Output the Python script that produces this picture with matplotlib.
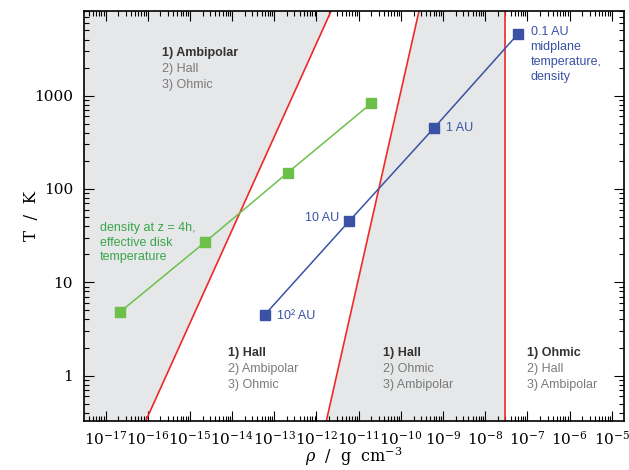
import numpy as np
import matplotlib
matplotlib.use("Agg")
import matplotlib.pyplot as plt
from matplotlib.ticker import LogLocator, FixedLocator, NullFormatter

plt.rcParams['mathtext.fontset'] = 'dejavuserif'

# disk tracks
rho_surface = [2.2e-17, 2.3e-15, 2.1e-13, 2.0e-11]
T_surface = [4.8, 27, 150, 830]
rho_mid = [6.0e-14, 5.9e-12, 6.1e-10, 6.0e-8]
T_mid = [4.5, 45, 450, 4600]
mid_labels = ["10² AU", "10 AU", "1 AU", "0.1 AU"]

# regime boundaries (red)
rho_b1 = [2.75e-17, 2.75e-12]
T_b1 = [0.1, 1e4]
rho_b2 = [9.5e-13, 3.0e-10]
T_b2 = [0.1, 1e4]
rho_b3 = 3.0e-8

# dominant-term ranking per region
regions = [
    (2.2e-16, 2870, ["1) Ambipolar", "2) Hall", "3) Ohmic"]),
    (7.9e-15, 1.73, ["1) Hall", "2) Ambipolar", "3) Ohmic"]),
    (3.8e-11, 1.73, ["1) Hall", "2) Ohmic", "3) Ambipolar"]),
    (9.6e-8, 1.73, ["1) Ohmic", "2) Hall", "3) Ambipolar"]),
]

grey = '#e6e7e8'
red = '#ee2a2a'
blue = '#3a52a5'
green_line = '#6cc04a'
green_text = '#3aa64a'


def main():
    fig = plt.figure(figsize=(6.29, 4.70), dpi=100)
    ax = fig.add_axes([84/629, 1-421/470, 540/629, 410/470])
    ax.set_xscale('log')
    ax.set_yscale('log')
    ax.set_xlim(10**-17.51, 10**-4.71)
    ax.set_ylim(0.326, 8090)

    # shaded regions
    ax.fill_betweenx(T_b1, 1e-20, rho_b1, color=grey, lw=0, zorder=0)
    ax.fill_betweenx(T_b2, rho_b2, rho_b3, color=grey, lw=0, zorder=0)

    ax.plot(rho_b1, T_b1, color=red, lw=1.2)
    ax.plot(rho_b2, T_b2, color=red, lw=1.2)
    ax.axvline(rho_b3, color=red, lw=1.2)

    ax.plot(rho_surface, T_surface, '-s', color=green_line, lw=1.1, ms=7, zorder=3)
    ax.plot(rho_mid, T_mid, '-s', color=blue, lw=1.1, ms=7, zorder=3)

    # region labels
    for x, y, lines in regions:
        for i, s in enumerate(lines):
            ax.annotate(s, (x, y), xytext=(0, -11.5*i), textcoords='offset points',
                        ha='left', va='center', fontsize=9, family='Liberation Sans',
                        color='#333333' if i == 0 else '#7a7a7a',
                        fontweight='bold' if i == 0 else 'normal')

    # track labels
    ax.annotate(mid_labels[0], (rho_mid[0], T_mid[0]), xytext=(9, -1), textcoords='offset points',
                ha='left', va='center', fontsize=9, family='Liberation Sans', color=blue)
    ax.annotate(mid_labels[1], (rho_mid[1], T_mid[1]), xytext=(-7, 2.5), textcoords='offset points',
                ha='right', va='center', fontsize=9, family='Liberation Sans', color=blue)
    ax.annotate(mid_labels[2], (rho_mid[2], T_mid[2]), xytext=(9, 0), textcoords='offset points',
                ha='left', va='center', fontsize=9, family='Liberation Sans', color=blue)
    ax.annotate(mid_labels[3] + "\nmidplane\ntemperature,\ndensity", (rho_mid[3], T_mid[3]),
                xytext=(9, 5.5), textcoords='offset points', ha='left', va='top',
                fontsize=9, family='Liberation Sans', color=blue, linespacing=1.32)
    ax.text(10**-17.135, 44, "density at z = 4h,\neffective disk\ntemperature",
            ha='left', va='top', fontsize=9, family='Liberation Sans', color=green_text,
            linespacing=1.25)

    # IDL-style ticks
    ax.xaxis.set_major_locator(FixedLocator([10.0**k for k in range(-17, -4)]))
    ax.xaxis.set_minor_locator(LogLocator(base=10, subs=np.arange(2, 10), numticks=30))
    ax.xaxis.set_minor_formatter(NullFormatter())
    ax.set_xticklabels(["$10^{%d}$" % k for k in range(-17, -4)])
    ax.yaxis.set_major_locator(FixedLocator([1, 10, 100, 1000]))
    ax.yaxis.set_minor_locator(LogLocator(base=10, subs=np.arange(2, 10), numticks=30))
    ax.yaxis.set_minor_formatter(NullFormatter())
    ax.set_yticklabels(["1", "10", "100", "1000"])
    ax.tick_params(which='both', direction='in', top=True, right=True, width=0.8)
    ax.tick_params(which='major', length=7, labelsize=11)
    ax.tick_params(axis='x', which='major', pad=6)
    ax.tick_params(axis='y', which='major', pad=8)
    ax.tick_params(which='minor', length=3.5)
    for lab in ax.get_xticklabels() + ax.get_yticklabels():
        lab.set_family('DejaVu Serif')
    for sp in ax.spines.values():
        sp.set_linewidth(1.2)

    ax.set_xlabel(r"$\rho$  /  g  cm$^{-3}$", family='DejaVu Serif', fontsize=11.5)
    ax.set_ylabel("T  /  K", family='DejaVu Serif', fontsize=12)
    ax.xaxis.set_label_coords(0.5, -0.088)
    ax.xaxis.label.set_va('center')
    ax.yaxis.set_label_coords(-0.082, 0.5)

    fig.savefig("out.png", dpi=100)


if __name__ == "__main__":
    main()
